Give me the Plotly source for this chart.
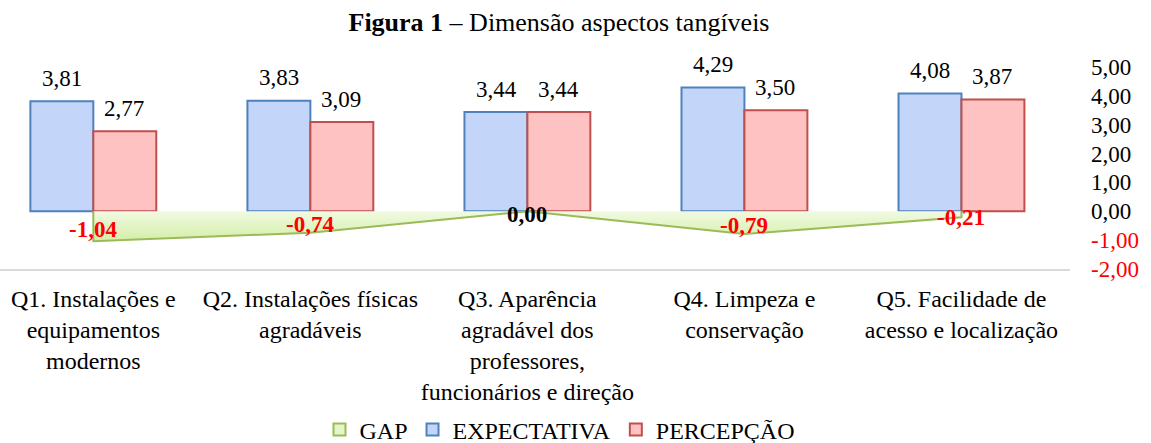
import plotly.graph_objects as go

# data
categorias = [
    "Q1. Instalações e<br>equipamentos<br>modernos",
    "Q2. Instalações físicas<br>agradáveis",
    "Q3. Aparência<br>agradável dos<br>professores,<br>funcionários e direção",
    "Q4. Limpeza e<br>conservação",
    "Q5. Facilidade de<br>acesso e localização",
]
expectativa = [3.81, 3.83, 3.44, 4.29, 4.08]
percepcao = [2.77, 3.09, 3.44, 3.50, 3.87]
gap = [-1.04, -0.74, 0.00, -0.79, -0.21]
y_ticks = [-2, -1, 0, 1, 2, 3, 4, 5]

FONTE = "Liberation Serif, Times New Roman, serif"
VERDE, VERDE_CLARO = "#9bbb59", "#e4f5c9"
LARG = 0.29  # largura de cada barra (unidades de categoria)


def br(v):
    # formato brasileiro, virgula decimal
    return f"{v:.2f}".replace(".", ",")


pos = list(range(len(categorias)))

fig = go.Figure()

# so para a legenda (quadradinho igual aos outros)
fig.add_trace(go.Bar(
    x=[None], y=[None], name="GAP",
    marker=dict(color=VERDE_CLARO, line=dict(color=VERDE, width=2)),
))

# area do GAP, fechada na linha do zero
fig.add_trace(go.Scatter(
    x=[pos[0]] + pos + [pos[-1]],
    y=[0] + gap + [0],
    fill="toself",
    mode="lines",
    line=dict(color=VERDE, width=2),
    fillgradient=dict(type="vertical",
                      colorscale=[[0, "#d3eea6"], [1, "#f1fae2"]]),
    showlegend=False,
    hoverinfo="skip",
))

fig.add_trace(go.Bar(
    x=pos, y=expectativa, name="EXPECTATIVA",
    width=LARG, offset=-LARG,
    marker=dict(color="#c3d6fa", line=dict(color="#4f81bd", width=2)),
))

fig.add_trace(go.Bar(
    x=pos, y=percepcao, name="PERCEPÇÃO",
    width=LARG, offset=0,
    marker=dict(color="#ffc2c2", line=dict(color="#c0504d", width=2)),
))

# rotulos dos valores em cima das barras
for serie, dx in [(expectativa, -31), (percepcao, 31)]:
    for p, v in zip(pos, serie):
        fig.add_annotation(
            x=p, y=v, xref="x", yref="y", text=br(v), showarrow=False,
            xshift=dx, yshift=23, yanchor="middle",
            font=dict(family=FONTE, size=23, color="black"),
        )

# rotulos do gap, no meio da area
for p, g in zip(pos, gap):
    fig.add_annotation(
        x=p, y=g / 2, xref="x", yref="y", text="<b>" + br(g) + "</b>",
        showarrow=False, yshift=-3, yanchor="middle",
        font=dict(family=FONTE, size=23, color="red" if g < 0 else "black"),
    )

tick_txt = []
for t in y_ticks:
    if t < 0:
        tick_txt.append('<span style="color:red">' + br(t) + "</span>")
    else:
        tick_txt.append(br(t))

fig.update_layout(
    width=1151, height=443,
    margin=dict(l=0, r=81, t=67, b=174),
    paper_bgcolor="white", plot_bgcolor="white",
    font=dict(family=FONTE, size=23, color="black"),
    barmode="overlay",
    title=dict(text="<b>Figura 1</b> – Dimensão aspectos tangíveis",
               x=559 / 1151, xanchor="center", y=1 - 22 / 443,
               yanchor="middle",
               font=dict(family=FONTE, size=26, color="black")),
    legend=dict(orientation="h", x=560 / 1151, xref="container",
                xanchor="center", y=13 / 443, yref="container",
                yanchor="middle",
                font=dict(family=FONTE, size=24), traceorder="normal"),
    showlegend=True,
)

fig.update_xaxes(
    range=[-0.43, 4.5],
    tickvals=pos, ticktext=categorias, tickangle=0, automargin=False,
    showgrid=False, zeroline=False,
    showline=True, linecolor="#d9d9d9", linewidth=2,
    ticks="", ticklabelstandoff=7,
    tickfont=dict(family=FONTE, size=24),
)

fig.update_yaxes(
    side="right", range=[-2, 5], automargin=False,
    tickvals=y_ticks, ticktext=tick_txt,
    showgrid=False, zeroline=False, showline=False,
    ticks="", ticklabelstandoff=20,
    tickfont=dict(family=FONTE, size=23),
)

# tira a margem padrao do body para a figura ficar no canto
fig.write_html("out.html", config={"displayModeBar": False},
               post_script="document.body.style.margin='0';")
